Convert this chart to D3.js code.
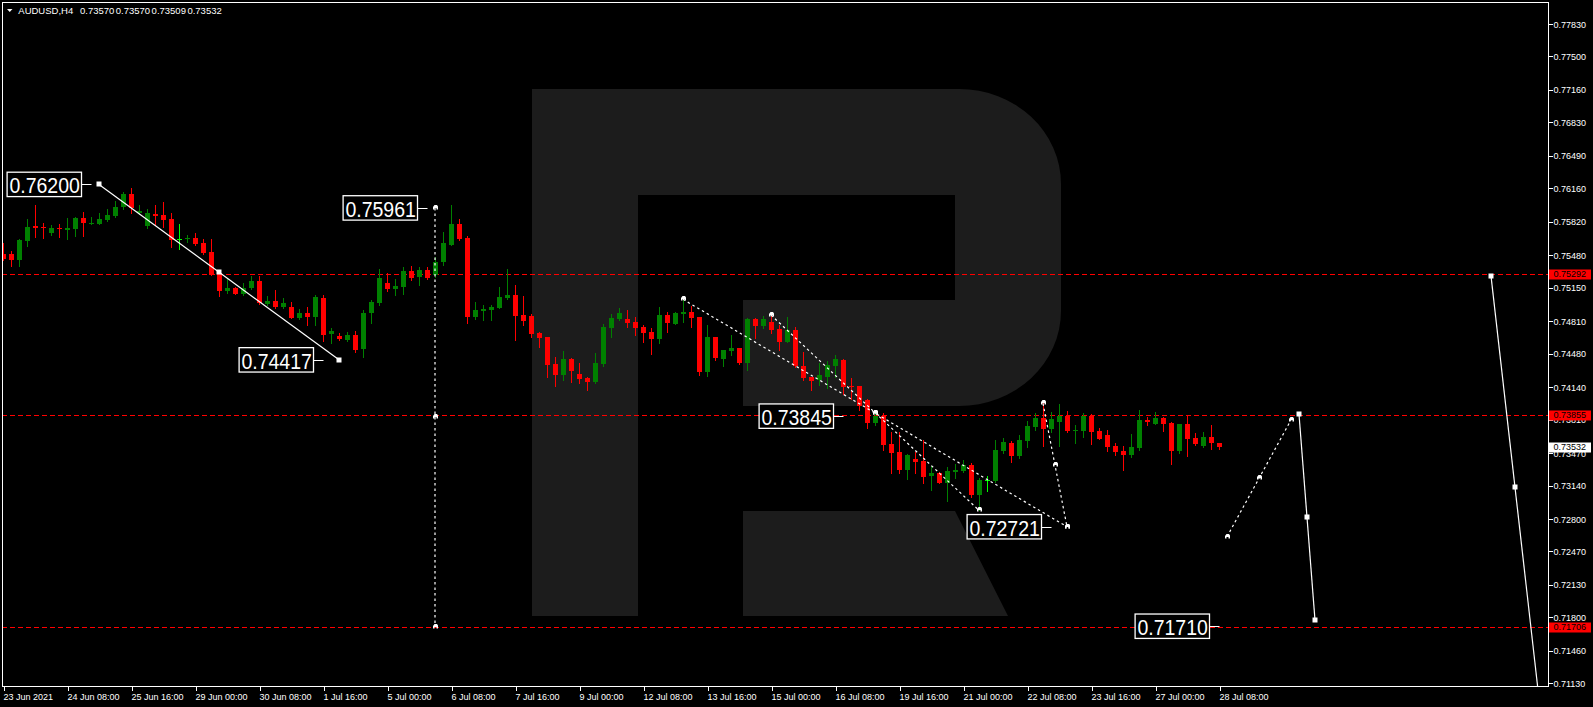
<!DOCTYPE html>
<html><head><meta charset="utf-8">
<script src="https://cdn.jsdelivr.net/npm/d3@7"></script>
<style>html,body{margin:0;padding:0;background:#000;overflow:hidden}svg{display:block}</style>
</head><body><svg id="c" width="1593" height="707"></svg>
<script>
// ---------- DATA ----------
const symbolTitle = "AUDUSD,H4";
const headerValues = ["0.73570","0.73570","0.73509","0.73532"];

const openP = [0.75493,0.75489,0.75432,0.75625,0.75777,0.75770,0.75709,0.75757,0.75740,0.75750,
0.75859,0.75801,0.75801,0.75838,0.75879,0.75967,0.76102,0.75913,0.75777,0.75899,
0.75889,0.75845,0.75645,0.75642,0.75652,0.75601,0.75510,0.75296,0.75120,0.75147,
0.75086,0.75151,0.75218,0.74988,0.75015,0.74954,0.74954,0.74846,0.74890,0.74856,
0.75049,0.74676,0.74659,0.74622,0.74670,0.74524,0.74890,0.74998,0.75195,0.75140,
0.75161,0.75320,0.75256,0.75330,0.75279,0.75415,0.75584,0.75798,0.75659,0.74856,
0.74917,0.74924,0.74947,0.75049,0.75076,0.74873,0.74863,0.74686,0.74649,0.74375,
0.74266,0.74426,0.74273,0.74232,0.74195,0.74375,0.74744,0.74832,0.74832,0.74802,
0.74754,0.74700,0.74629,0.74873,0.74785,0.74886,0.74903,0.74852,0.74297,0.74653,
0.74429,0.74510,0.74537,0.74388,0.74832,0.74764,0.74802,0.74730,0.74602,0.74720,
0.74354,0.74243,0.74212,0.74246,0.74358,0.74415,0.74151,0.74151,0.74009,0.73779,
0.73846,0.73562,0.73477,0.73298,0.73409,0.73389,0.73240,0.73264,0.73169,0.73281,
0.73287,0.73348,0.73043,0.73196,0.73186,0.73491,0.73568,0.73440,0.73596,0.73738,
0.73826,0.73714,0.73785,0.73846,0.73694,0.73694,0.73846,0.73694,0.73653,0.73541,
0.73491,0.73450,0.73524,0.73806,0.73765,0.73826,0.73779,0.73491,0.73765,0.73623,
0.73541,0.73629,0.73570];
const highP = [0.75601,0.75527,0.75645,0.75845,0.75994,0.75811,0.75791,0.75794,0.75855,0.75872,
0.75919,0.75872,0.75913,0.75950,0.76035,0.76123,0.76163,0.75994,0.75947,0.75991,
0.76021,0.75906,0.75794,0.75686,0.75703,0.75645,0.75645,0.75306,0.75245,0.75161,
0.75201,0.75269,0.75269,0.75066,0.75127,0.75042,0.75008,0.74930,0.74957,0.75073,
0.75073,0.74744,0.74693,0.74697,0.74710,0.74924,0.75025,0.75340,0.75296,0.75242,
0.75357,0.75371,0.75357,0.75357,0.75466,0.75720,0.75991,0.75848,0.75676,0.75005,
0.74974,0.74974,0.75157,0.75340,0.75178,0.75066,0.74883,0.74703,0.74649,0.74449,
0.74507,0.74439,0.74388,0.74246,0.74487,0.74781,0.74883,0.74947,0.74924,0.74852,
0.74771,0.74737,0.74954,0.74907,0.74907,0.75025,0.74968,0.74852,0.74771,0.74653,
0.74517,0.74669,0.74537,0.74846,0.74846,0.74866,0.74883,0.74774,0.74852,0.74754,
0.74500,0.74246,0.74388,0.74405,0.74466,0.74422,0.74229,0.74151,0.74016,0.73880,
0.73880,0.73687,0.73680,0.73460,0.73484,0.73602,0.73338,0.73281,0.73331,0.73358,
0.73399,0.73365,0.73213,0.73240,0.73602,0.73619,0.73592,0.73653,0.73799,0.73880,
0.73975,0.73890,0.73968,0.73897,0.73755,0.73880,0.73867,0.73728,0.73704,0.73568,
0.73541,0.73663,0.73907,0.73839,0.73887,0.73839,0.73789,0.73765,0.73846,0.73677,
0.73684,0.73755,0.73570];
const lowP = [0.75432,0.75371,0.75371,0.75574,0.75662,0.75659,0.75689,0.75662,0.75645,0.75676,
0.75679,0.75794,0.75794,0.75831,0.75872,0.75953,0.75906,0.75899,0.75754,0.75787,
0.75770,0.75567,0.75540,0.75618,0.75584,0.75489,0.75276,0.75066,0.75100,0.75083,
0.75079,0.75140,0.74985,0.74974,0.74941,0.74947,0.74839,0.74835,0.74771,0.74771,
0.74609,0.74592,0.74619,0.74612,0.74500,0.74449,0.74788,0.74974,0.75120,0.75079,
0.75086,0.75228,0.75174,0.75235,0.75262,0.75381,0.75584,0.75635,0.74795,0.74835,
0.74822,0.74822,0.74940,0.75035,0.74622,0.74771,0.74653,0.74544,0.74246,0.74155,
0.74212,0.74195,0.74185,0.74111,0.74185,0.74358,0.74653,0.74822,0.74754,0.74673,
0.74602,0.74480,0.74592,0.74703,0.74778,0.74805,0.74754,0.74263,0.74256,0.74415,
0.74358,0.74470,0.74378,0.74310,0.74642,0.74737,0.74686,0.74517,0.74598,0.74348,
0.74212,0.74111,0.74161,0.74134,0.74246,0.74070,0.74019,0.73907,0.73721,0.73755,
0.73501,0.73270,0.73264,0.73209,0.73264,0.73162,0.73094,0.73162,0.72982,0.73213,
0.73281,0.73027,0.72891,0.73087,0.73179,0.73467,0.73382,0.73416,0.73535,0.73704,
0.73541,0.73687,0.73541,0.73687,0.73575,0.73636,0.73562,0.73613,0.73494,0.73450,
0.73297,0.73426,0.73501,0.73755,0.73765,0.73694,0.73358,0.73474,0.73440,0.73552,
0.73535,0.73511,0.73509];
const closeP = [0.75445,0.75435,0.75635,0.75764,0.75757,0.75760,0.75754,0.75743,0.75754,0.75859,
0.75804,0.75811,0.75848,0.75889,0.75974,0.76102,0.75957,0.75933,0.75906,0.75879,
0.75838,0.75635,0.75645,0.75652,0.75594,0.75499,0.75279,0.75120,0.75147,0.75086,
0.75151,0.75222,0.74991,0.75015,0.74954,0.74991,0.74846,0.74890,0.74856,0.75052,
0.74670,0.74710,0.74625,0.74673,0.74517,0.74890,0.75008,0.75245,0.75134,0.75167,
0.75320,0.75252,0.75330,0.75245,0.75415,0.75601,0.75798,0.75642,0.74856,0.74924,
0.74937,0.74957,0.75059,0.75076,0.74866,0.74815,0.74683,0.74642,0.74365,0.74266,
0.74426,0.74304,0.74226,0.74192,0.74385,0.74754,0.74842,0.74893,0.74795,0.74744,
0.74693,0.74629,0.74873,0.74795,0.74893,0.74903,0.74846,0.74297,0.74653,0.74439,
0.74517,0.74537,0.74385,0.74832,0.74764,0.74832,0.74724,0.74602,0.74720,0.74354,
0.74232,0.74205,0.74263,0.74365,0.74426,0.74144,0.74138,0.73948,0.73779,0.73850,
0.73552,0.73467,0.73298,0.73450,0.73382,0.73230,0.73270,0.73169,0.73287,0.73298,
0.73348,0.73043,0.73196,0.73196,0.73501,0.73582,0.73440,0.73602,0.73745,0.73826,
0.73714,0.73816,0.73846,0.73694,0.73704,0.73846,0.73687,0.73613,0.73528,0.73484,
0.73450,0.73528,0.73806,0.73782,0.73826,0.73765,0.73491,0.73765,0.73613,0.73562,
0.73629,0.73568,0.73532];

const timeTickIdx = [0,8,16,24,32,40,48,56,64,72,80,88,96,104,112,120,128,136,144,152];
const timeTickLabels = ["23 Jun 2021","24 Jun 08:00","25 Jun 16:00","29 Jun 00:00","30 Jun 08:00",
"1 Jul 16:00","5 Jul 00:00","6 Jul 08:00","7 Jul 16:00","9 Jul 00:00","12 Jul 08:00","13 Jul 16:00",
"15 Jul 00:00","16 Jul 08:00","19 Jul 16:00","21 Jul 00:00","22 Jul 08:00","23 Jul 16:00",
"27 Jul 00:00","28 Jul 08:00"];
const priceTicks = [0.77830,0.77500,0.77160,0.76830,0.76490,0.76160,0.75820,0.75480,0.75150,
0.74810,0.74480,0.74140,0.73810,0.73470,0.73140,0.72800,0.72470,0.72130,0.71800,0.71460,0.71130];

const levelPrices = [0.75292,0.73855,0.71706];
const lastPrice = 0.73532;

// trend objects: [index0, price0, index1, price1]
const solidLines = [[12,0.76200,42,0.74417],[162,0.73864,164,0.71770],[186,0.75270,192,0.70974]];
const dottedLines = [[85,0.75032,133,0.72721],[96,0.74873,122,0.72888],[130,0.73975,133,0.72721],
[54,0.75961,54,0.71706],[153,0.72620,161,0.73806]];
const noteTexts = ["0.76200","0.74417","0.75961","0.73845","0.72721","0.71710"];
const noteIdx = [11,40,53,105,131,152];
const notePrice = [0.76200,0.74417,0.75961,0.73845,0.72721,0.71710];

// ---------- DRAW ----------
const W = 1593, H = 707;
const L = 2, T = 2, R = 1548, B = 686;
const FONT = "'Liberation Sans', Arial, sans-serif";
const svg = d3.select("#c");
const x = d3.scaleLinear().domain([0,152]).range([3,1219]);
const y = d3.scaleLinear().domain([0.7783,0.7113]).range([24,683.3]);

svg.append("rect").attr("width",W).attr("height",H).attr("fill","#000");
svg.append("defs").append("clipPath").attr("id","clip")
  .append("rect").attr("x",L+1).attr("y",T+1).attr("width",R-L-1).attr("height",B-T-1);

const plot = svg.append("g").attr("clip-path","url(#clip)");

// watermark "R"
plot.append("path")
  .attr("d","M532,89 L959,89 A102,95 0 0 1 1061,184 L1061,311 A102,95 0 0 1 959,406 L743,406 L743,300 L955,300 L955,195 L638,195 L638,616 L532,616 Z M743,511 L955,511 L1008,616 L743,616 Z")
  .attr("fill","#1c1c1c");

// horizontal levels
plot.selectAll(".lvl").data(levelPrices).join("line")
  .attr("x1",L).attr("x2",R)
  .attr("y1",d=>Math.round(y(d))+0.5).attr("y2",d=>Math.round(y(d))+0.5)
  .attr("stroke","#ff0000").attr("stroke-width",1).attr("stroke-dasharray","5,3");

// candles
const idx = d3.range(openP.length);
const col = i => closeP[i] > openP[i] ? "#008000" : (closeP[i] < openP[i] ? "#ff0000" : "#00ff00");
const cg = plot.append("g").attr("shape-rendering","crispEdges");
cg.selectAll(".wick").data(idx).join("line")
  .attr("x1",i=>x(i)+0.5).attr("x2",i=>x(i)+0.5)
  .attr("y1",i=>Math.round(y(highP[i]))).attr("y2",i=>Math.round(y(lowP[i]))+1)
  .attr("stroke",col);
cg.selectAll(".body").data(idx).join("rect")
  .attr("x",i=>x(i)-2).attr("width",5)
  .attr("y",i=>Math.round(y(Math.max(openP[i],closeP[i]))))
  .attr("height",i=>Math.max(1,Math.round(y(Math.min(openP[i],closeP[i])))-Math.round(y(Math.max(openP[i],closeP[i])))))
  .attr("fill",col);

// solid trend lines with square points
const og = plot.append("g");
og.selectAll(".sl").data(solidLines).join("line")
  .attr("x1",d=>x(d[0])).attr("y1",d=>y(d[1])).attr("x2",d=>x(d[2])).attr("y2",d=>y(d[3]))
  .attr("stroke","#fff").attr("stroke-width",1.2);
const sqPts = [];
solidLines.forEach(d=>{sqPts.push([d[0],d[1]],[(d[0]+d[2])/2,(d[1]+d[3])/2],[d[2],d[3]]);});
og.selectAll(".sq").data(sqPts).join("rect")
  .attr("x",d=>Math.round(x(d[0]))-2.5).attr("y",d=>Math.round(y(d[1]))-2.5)
  .attr("width",5).attr("height",5).attr("fill","#fff");

// dotted lines with arrow marks
og.selectAll(".dl").data(dottedLines).join("line")
  .attr("x1",d=>x(d[0])).attr("y1",d=>y(d[1])).attr("x2",d=>x(d[2])).attr("y2",d=>y(d[3]))
  .attr("stroke","#fff").attr("stroke-width",1.2).attr("stroke-dasharray","2.5,3");
const arPts = [];
dottedLines.forEach(d=>{arPts.push([d[0],d[1]],[(d[0]+d[2])/2,(d[1]+d[3])/2],[d[2],d[3]]);});
og.selectAll(".ar").data(arPts).join("path")
  .attr("transform",d=>`translate(${Math.round(x(d[0]))+0.5},${Math.round(y(d[1]))-1})`)
  .attr("d","M-2.5,2.5 L-2.5,0 L-1,-2 L1.5,-2 L2.5,-0.5 L2.5,2.5 L1,2.5 L1,1 L-1,1 L-1,2.5 Z")
  .attr("fill","#fff");

// note labels
const ng = svg.append("g");
noteTexts.forEach((t,k)=>{
  const ax = x(noteIdx[k]) + 0.5, cy = y(notePrice[k]);
  const bx = ax - 10 - 74.4, by = cy - 12.2;
  ng.append("line").attr("x1",ax-10).attr("x2",ax).attr("y1",Math.round(cy)+0.5).attr("y2",Math.round(cy)+0.5)
    .attr("stroke","#fff").attr("stroke-width",1);
  ng.append("rect").attr("x",bx).attr("y",by).attr("width",74.4).attr("height",24.4)
    .attr("fill","#000").attr("stroke","#fff").attr("stroke-width",1.3);
  ng.append("text").attr("x",bx+2.3).attr("y",by+21).attr("fill","#fff")
    .attr("font-family",FONT).attr("font-size",22)
    .attr("textLength",70.5).attr("lengthAdjust","spacingAndGlyphs").text(t);
});

// frame
svg.append("rect").attr("x",L+0.5).attr("y",T+0.5).attr("width",R-L).attr("height",B-T)
  .attr("fill","none").attr("stroke","#fff").attr("stroke-width",1).attr("shape-rendering","crispEdges");

// right axis
const ya = svg.append("g").attr("transform",`translate(${R+0.5},0)`)
  .call(d3.axisRight(y).tickValues(priceTicks).tickSize(4).tickSizeOuter(0).tickFormat(d3.format(".5f")));
ya.select(".domain").remove();
ya.selectAll(".tick line").attr("stroke","#fff").attr("shape-rendering","crispEdges");
ya.selectAll(".tick text").attr("x",5).attr("fill","#fff").attr("font-family",FONT).attr("font-size",9)
  .attr("dy","0.34em");

// price labels on the axis
const pl = svg.append("g");
levelPrices.forEach(p=>{
  const cy = y(p);
  pl.append("rect").attr("x",R+1).attr("y",Math.round(cy)-4.5).attr("width",42).attr("height",10).attr("fill","#ff0000");
  pl.append("text").attr("x",R+5.5).attr("y",cy).attr("dy","0.34em").attr("fill","#000")
    .attr("font-family",FONT).attr("font-size",9).text(d3.format(".5f")(p));
});
{
  const cy = y(lastPrice);
  pl.append("rect").attr("x",R+1).attr("y",Math.round(cy)-4.5).attr("width",42).attr("height",10).attr("fill","#fff");
  pl.append("text").attr("x",R+5.5).attr("y",cy).attr("dy","0.34em").attr("fill","#000")
    .attr("font-family",FONT).attr("font-size",9).text(d3.format(".5f")(lastPrice));
}

// bottom axis
const xa = svg.append("g").attr("transform",`translate(0,${B+0.5})`)
  .call(d3.axisBottom(x).tickValues(timeTickIdx).tickSize(4).tickSizeOuter(0).tickFormat((d,i)=>timeTickLabels[i]));
xa.select(".domain").remove();
xa.selectAll(".tick line").attr("stroke","#fff").attr("shape-rendering","crispEdges").attr("transform","translate(0.5,0)");
xa.selectAll(".tick text").attr("text-anchor","start").attr("x",0).attr("y",7).attr("dy","0.71em")
  .attr("fill","#fff").attr("font-family",FONT).attr("font-size",9);

// header
svg.append("path").attr("d","M7,9 L12.5,9 L9.75,12 Z").attr("fill","#fff");
svg.append("text").attr("x",18.3).attr("y",14).attr("fill","#fff").attr("font-family",FONT).attr("font-size",9.5).text(symbolTitle);
svg.selectAll(".hv").data(headerValues).join("text")
  .attr("x",(d,i)=>80+i*35.8).attr("y",14).attr("fill","#fff").attr("font-family",FONT).attr("font-size",9.5).text(d=>d);
</script>
</body></html>
